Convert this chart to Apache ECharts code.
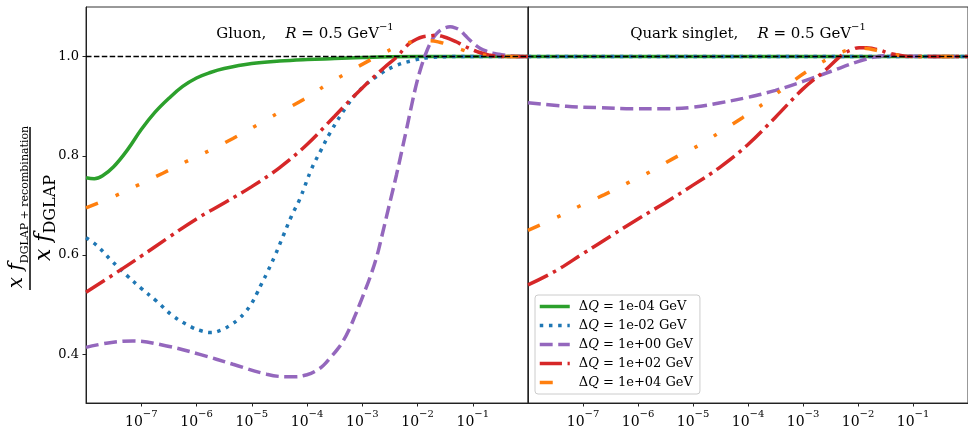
<!DOCTYPE html>
<html>
<head>
<meta charset="utf-8">
<script src="https://cdn.jsdelivr.net/npm/echarts@6/dist/echarts.min.js"></script>
<style>html,body{margin:0;padding:0;background:#fff;}#c{width:968px;height:429px;}</style>
</head>
<body>
<div id="c"></div>
<script>
// ---- data (x given as log10 exponent) ----
const seriesLabels = ['1e-04', '1e-02', '1e+00', '1e+02', '1e+04'];
const xTickExps = [-7, -6, -5, -4, -3, -2, -1];
const yTicks = [0.4, 0.6, 0.8, 1.0];

// Gluon panel
const gGreenX = [-8, -7.85, -7.7, -7.5, -7.25, -7.0, -6.75, -6.5, -6.25, -6.0, -5.75, -5.5, -5.0, -4.5, -4.0, -3.5, -3.0, -2.5, -2, -1, 0];
const gGreenY = [0.756, 0.754, 0.760, 0.778, 0.812, 0.853, 0.888, 0.916, 0.940, 0.957, 0.968, 0.976, 0.986, 0.991, 0.994, 0.996, 0.998, 0.9995, 1.0, 1.0, 1.0];

const gBlueX = [-8, -7.81, -7.54, -7.27, -7.0, -6.72, -6.42, -6.09, -5.9, -5.74, -5.55, -5.40, -5.25, -5.11, -5.0, -4.91, -4.82, -4.73, -4.58, -4.43, -4.28, -4.13, -3.92, -3.74, -3.58, -3.28, -3.04, -2.74, -2.41, -2.05, -1.8, -1.4, -1, 0];
const gBlueY = [0.635, 0.62, 0.589, 0.56, 0.533, 0.507, 0.477, 0.455, 0.447, 0.444, 0.449, 0.458, 0.47, 0.486, 0.503, 0.522, 0.543, 0.563, 0.599, 0.639, 0.679, 0.713, 0.773, 0.813, 0.847, 0.9, 0.933, 0.96, 0.981, 0.993, 0.998, 1.0, 1.0, 1.0];

const gPurpleX = [-8, -7.6, -7.15, -6.54, -5.94, -5.34, -4.73, -4.37, -4.2, -4.0, -3.85, -3.7, -3.58, -3.45, -3.34, -3.23, -3.13, -3.05, -2.98, -2.86, -2.74, -2.65, -2.56, -2.47, -2.38, -2.29, -2.20, -2.11, -2.03, -1.95, -1.86, -1.77, -1.68, -1.59, -1.5, -1.41, -1.32, -1.23, -1.14, -1.05, -0.96, -0.87, -0.75, -0.63, -0.48, -0.33, -0.15, 0];
const gPurpleY = [0.414, 0.423, 0.427, 0.417, 0.4, 0.38, 0.36, 0.355, 0.355, 0.359, 0.366, 0.378, 0.393, 0.41, 0.428, 0.452, 0.478, 0.5, 0.52, 0.555, 0.596, 0.636, 0.678, 0.72, 0.762, 0.807, 0.853, 0.9, 0.94, 0.973, 1.003, 1.027, 1.043, 1.053, 1.058, 1.06, 1.058, 1.053, 1.043, 1.033, 1.024, 1.017, 1.011, 1.007, 1.004, 1.002, 1.0, 1.0];

const gRedX = [-8, -7.5, -7, -6.5, -6, -5.5, -5, -4.5, -4, -3.5, -3, -2.6, -2.37, -2.25, -2.14, -2.02, -1.9, -1.77, -1.65, -1.53, -1.42, -1.3, -1.18, -1.05, -0.92, -0.7, -0.5, 0];
const gRedY = [0.525, 0.561, 0.598, 0.636, 0.673, 0.705, 0.738, 0.776, 0.823, 0.88, 0.937, 0.978, 1.0, 1.015, 1.027, 1.035, 1.04, 1.042, 1.043, 1.04, 1.036, 1.03, 1.023, 1.016, 1.01, 1.003, 1.0, 1.0];

const gOrangeX = [-8, -7.46, -7.06, -6.61, -6.16, -5.76, -5.34, -4.89, -4.51, -4.07, -3.65, -3.28, -2.86, -2.6, -2.37, -2.2, -2.0, -1.78, -1.6, -1.42, -1.2, -1.0, -0.6, 0];
const gOrangeY = [0.695, 0.72, 0.741, 0.765, 0.79, 0.811, 0.835, 0.863, 0.887, 0.913, 0.943, 0.967, 0.993, 1.008, 1.02, 1.027, 1.031, 1.032, 1.029, 1.023, 1.014, 1.007, 1.001, 1.0];

// Quark singlet panel
const qGreenX = [-8, 0];
const qGreenY = [1.0, 1.0];
const qBlueX = [-8, 0];
const qBlueY = [1.0, 1.0];

const qPurpleX = [-8, -7.3, -6.7, -6.1, -5.5, -5.0, -4.5, -4.0, -3.5, -3.0, -2.5, -2.0, -1.7, -1.4, -1.0, 0];
const qPurpleY = [0.907, 0.9, 0.897, 0.895, 0.895, 0.898, 0.907, 0.918, 0.932, 0.95, 0.97, 0.99, 0.999, 1.003, 1.001, 1.0];

const qRedX = [-8, -7.5, -7, -6.5, -6, -5.5, -5, -4.5, -4, -3.5, -3, -2.6, -2.35, -2.23, -2.11, -1.98, -1.85, -1.72, -1.6, -1.44, -1.2, -0.95, 0];
const qRedY = [0.54, 0.568, 0.603, 0.638, 0.673, 0.706, 0.741, 0.778, 0.823, 0.878, 0.935, 0.972, 0.998, 1.008, 1.014, 1.018, 1.018, 1.016, 1.013, 1.007, 1.002, 1.0, 1.0];

const qOrangeX = [-8, -7.46, -7.06, -6.61, -6.16, -5.78, -5.32, -4.88, -4.52, -4.1, -3.67, -3.31, -2.89, -2.47, -2.3, -2.11, -1.95, -1.8, -1.57, -1.26, -0.72, 0];
const qOrangeY = [0.65, 0.677, 0.699, 0.722, 0.747, 0.768, 0.797, 0.822, 0.847, 0.877, 0.909, 0.94, 0.973, 1.0, 1.009, 1.015, 1.017, 1.016, 1.01, 1.003, 1.0, 1.0];

const refX = [-8, 0];
const refY = [1.0, 1.0];

// ---- styling ----
const SERIF = 'DejaVu Serif';
const colors = ['#2ca02c', '#1f77b4', '#9467bd', '#d62728', '#ff7f0e'];
const dashes = ['solid', [3.5, 5.7], [12.9, 5.6], [22.2, 5.6, 3.5, 5.6], [13, 19, 3.5, 19, 3.5, 19]];

function pts(xs, ys) { return xs.map((e, i) => [Math.pow(10, e), ys[i]]); }

const panels = [
  [[gGreenX, gGreenY], [gBlueX, gBlueY], [gPurpleX, gPurpleY], [gRedX, gRedY], [gOrangeX, gOrangeY]],
  [[qGreenX, qGreenY], [qBlueX, qBlueY], [qPurpleX, qPurpleY], [qRedX, qRedY], [qOrangeX, qOrangeY]]
];

const series = [];
panels.forEach((p, gi) => {
  p.forEach((d, si) => {
    series.push({
      name: seriesLabels[si], type: 'line', xAxisIndex: gi, yAxisIndex: gi,
      data: pts(d[0], d[1]), symbol: 'none', showSymbol: false, smooth: 0.4, silent: true,
      color: colors[si], z: 2 + si,
      lineStyle: { color: colors[si], width: 3.5, type: dashes[si], cap: 'butt' }
    });
  });
  series.push({
    name: 'ref', type: 'line', xAxisIndex: gi, yAxisIndex: gi, data: pts(refX, refY),
    symbol: 'none', silent: true, z: 10,
    lineStyle: { color: '#000', width: 1.5, type: [5.5, 2.4] }
  });
});

function xAxisDef(gi) {
  return {
    type: 'log', gridIndex: gi, min: 1e-8, max: 1, logBase: 10,
    axisLine: { show: true, lineStyle: { color: '#222', width: 1 } },
    axisTick: { show: true, inside: false, length: 3.5, lineStyle: { color: '#222' }, customValues: xTickExps.map(e => Math.pow(10, e)) },
    axisLabel: {
      customValues: xTickExps.map(e => Math.pow(10, e)),
      margin: 6,
      formatter: function (v) {
        const e = Math.round(Math.log10(v));
        return '{b|10}{s|\u2212' + Math.abs(e) + '}';
      },
      rich: {
        b: { fontFamily: SERIF, fontSize: 14, color: '#000', lineHeight: 20, verticalAlign: 'bottom' },
        s: { fontFamily: SERIF, fontSize: 10, color: '#000', lineHeight: 20, verticalAlign: 'top' }
      }
    },
    splitLine: { show: false }
  };
}
function yAxisDef(gi) {
  return {
    type: 'value', gridIndex: gi, min: 0.302, max: 1.1,
    axisLine: { show: true, lineStyle: { color: '#222', width: 1 } },
    axisTick: { show: gi === 0, inside: false, length: 3.5, lineStyle: { color: '#222' }, customValues: yTicks },
    axisLabel: {
      show: gi === 0, customValues: yTicks, margin: 7,
      fontFamily: SERIF, fontSize: 13, color: '#000',
      formatter: v => v.toFixed(1)
    },
    splitLine: { show: false }
  };
}

const titleRich = {
  n: { fontFamily: SERIF, fontSize: 15, color: '#000', lineHeight: 20, verticalAlign: 'bottom' },
  i: { fontFamily: SERIF, fontStyle: 'italic', fontSize: 15, color: '#000', lineHeight: 20, verticalAlign: 'bottom' },
  s: { fontFamily: SERIF, fontSize: 10, color: '#000', lineHeight: 20, verticalAlign: 'top' }
};

const option = {
  animation: false,
  backgroundColor: '#fff',
  grid: [
    { left: 86, top: 7, width: 442, height: 399, show: true, borderColor: '#333', borderWidth: 1, backgroundColor: 'transparent' },
    { left: 528, top: 7, width: 442, height: 399, show: true, borderColor: '#333', borderWidth: 1, backgroundColor: 'transparent' }
  ],
  xAxis: [xAxisDef(0), xAxisDef(1)],
  yAxis: [yAxisDef(0), yAxisDef(1)],
  legend: {
    data: seriesLabels, orient: 'vertical', left: 535, top: 295,
    itemWidth: 30, itemHeight: 14, itemGap: 6,
    padding: [5, 7, 5, 3],
    backgroundColor: 'rgba(255,255,255,0.8)', borderColor: '#cccccc', borderWidth: 1, borderRadius: 3,
    selectedMode: false,
    itemStyle: { opacity: 0, borderWidth: 0 },
    lineStyle: { width: 3.5, cap: 'butt' },
    formatter: name => '{d|\u0394}{q|Q}{t| = ' + name + ' GeV}',
    textStyle: {
      padding: [0, 0, 0, 4],
      rich: {
        d: { fontFamily: SERIF, fontSize: 13, color: '#000' },
        q: { fontFamily: SERIF, fontStyle: 'italic', fontSize: 13, color: '#000' },
        t: { fontFamily: SERIF, fontSize: 13, color: '#000' }
      }
    }
  },
  graphic: [
    { type: 'text', x: 305, y: 32, z: 20, style: { text: '{n|Gluon,}{n|    }{i|R}{n| = 0.5 GeV}{s|\u22121}', rich: titleRich, align: 'center', verticalAlign: 'middle' } },
    { type: 'text', x: 748, y: 32, z: 20, style: { text: '{n|Quark singlet,}{n|    }{i|R}{n| = 0.5 GeV}{s|\u22121}', rich: titleRich, align: 'center', verticalAlign: 'middle' } },
    { type: 'line', z: 20, shape: { x1: 30, y1: 127, x2: 30, y2: 290 }, style: { stroke: '#000', lineWidth: 1.5 } },
    { type: 'text', x: 17, y: 207, rotation: Math.PI / 2, z: 20, style: {
      text: '{m|x f}{s|DGLAP + recombination}', align: 'center', verticalAlign: 'middle',
      rich: {
        m: { fontFamily: SERIF, fontStyle: 'italic', fontSize: 20, color: '#000', lineHeight: 28, verticalAlign: 'middle' },
        s: { fontFamily: SERIF, fontSize: 11, color: '#000', lineHeight: 28, verticalAlign: 'bottom' }
      } } },
    { type: 'text', x: 44, y: 218, rotation: Math.PI / 2, z: 20, style: {
      text: '{m|x f}{s|DGLAP}', align: 'center', verticalAlign: 'middle',
      rich: {
        m: { fontFamily: SERIF, fontStyle: 'italic', fontSize: 22, color: '#000', lineHeight: 30, verticalAlign: 'middle' },
        s: { fontFamily: SERIF, fontSize: 16, color: '#000', lineHeight: 30, verticalAlign: 'bottom' }
      } } }
  ],
  series: series
};

const chart = echarts.init(document.getElementById('c'), null, { renderer: 'canvas' });
chart.setOption(option);
</script>
</body>
</html>
